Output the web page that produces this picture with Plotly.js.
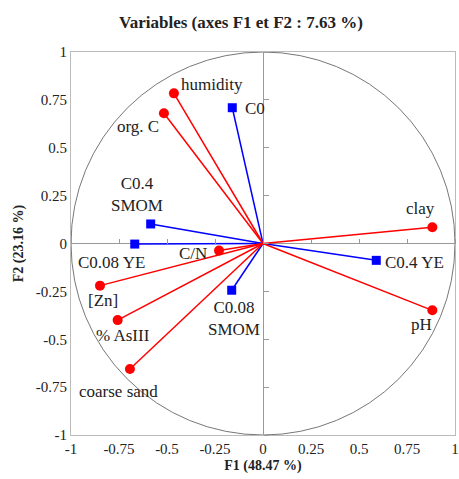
<!DOCTYPE html>
<html><head><meta charset="utf-8">
<script src="https://cdn.plot.ly/plotly-3.0.1.min.js"></script>
<style>html,body{margin:0;padding:0;background:#fff}#chart{width:459px;height:479px}</style>
</head><body><div id="chart"></div>
<script>
// Active variables (red circles)
const activeNames = ["humidity", "org. C", "C/N", "[Zn]", "% AsIII", "coarse sand", "clay", "pH"];
const activeF1 = [-0.464, -0.516, -0.229, -0.849, -0.757, -0.693, 0.882, 0.882];
const activeF2 = [0.784, 0.680, -0.037, -0.220, -0.400, -0.655, 0.085, -0.349];
// Supplementary variables (blue squares)
const suppNames = ["C0", "C0.4<br>SMOM", "C0.08 YE", "C0.08<br>SMOM", "C0.4 YE"];
const suppF1 = [-0.160, -0.585, -0.668, -0.163, 0.590];
const suppF2 = [0.709, 0.102, -0.003, -0.244, -0.088];
const tickVals = [-1, -0.75, -0.5, -0.25, 0, 0.25, 0.5, 0.75, 1];
const tickText = ["-1", "-0.75", "-0.5", "-0.25", "0", "0.25", "0.5", "0.75", "1"];

// label offsets in pixels (layout only)
const activeShift = [[38, 9], [-26, -13], [-26, -3], [3, -15], [5, -15], [-11, -23], [-12, 19], [-11, -14]];
const suppShift = [[23, -1], [-14, 29.5], [-23, -18], [2, -28], [38, -2]];

function rays(xs, ys) {
  const x = [], y = [];
  xs.forEach((v, i) => { x.push(0, v, null); y.push(0, ys[i], null); });
  return {x, y};
}
const ra = rays(activeF1, activeF2), rs = rays(suppF1, suppF2);
const RED = "#ff0000", BLUE = "#0000ff";
const serif = "Liberation Serif";

const traces = [
  {x: rs.x, y: rs.y, mode: "lines", line: {color: BLUE, width: 1.5}, hoverinfo: "skip", showlegend: false},
  {x: ra.x, y: ra.y, mode: "lines", line: {color: RED, width: 1.5}, hoverinfo: "skip", showlegend: false},
  {x: suppF1, y: suppF2, mode: "markers", marker: {symbol: "square", color: BLUE, size: 9}, showlegend: false},
  {x: activeF1, y: activeF2, mode: "markers", marker: {symbol: "circle", color: RED, size: 10}, showlegend: false},
  {x: [], y: [], xaxis: "x2", yaxis: "y2", showlegend: false}
];

const annotations = [];
activeNames.forEach((n, i) => annotations.push({x: activeF1[i], y: activeF2[i], xref: "x", yref: "y", text: n, showarrow: false,
  xshift: activeShift[i][0], yshift: activeShift[i][1], font: {family: serif, size: 17, color: "#222"}}));
suppNames.forEach((n, i) => annotations.push({x: suppF1[i], y: suppF2[i], xref: "x", yref: "y", text: n, showarrow: false,
  xshift: suppShift[i][0], yshift: suppShift[i][1], font: {family: serif, size: 17, color: "#222"}}));

const layout = {
  width: 459, height: 479,
  margin: {l: 71, r: 4, t: 52, b: 44},
  paper_bgcolor: "#fff", plot_bgcolor: "#fff",
  font: {family: serif, size: 14, color: "#222"},
  title: {text: "<b>Variables (axes F1 et F2 : 7.63 %)</b>", x: 0.525, xanchor: "center", y: 0.953, yanchor: "middle",
    font: {family: serif, size: 17, color: "#222"}},
  xaxis: {range: [-1, 1], tickvals: tickVals, ticktext: tickText, showgrid: false, zeroline: true, zerolinecolor: "#999", zerolinewidth: 1,
    showline: true, linecolor: "#bbb", linewidth: 1, mirror: true, ticks: "", ticklen: 0,
    tickfont: {family: serif, size: 15, color: "#222"},
    title: {text: "<b>F1 (48.47 %)</b>", font: {family: serif, size: 14, color: "#222"}, standoff: 4}},
  yaxis: {range: [-1, 1], tickvals: tickVals, ticktext: tickText, showgrid: false, zeroline: true, zerolinecolor: "#999", zerolinewidth: 1,
    showline: true, linecolor: "#bbb", linewidth: 1, mirror: true, ticks: "", ticklen: 0,
    tickfont: {family: serif, size: 15, color: "#222"},
    title: {text: "<b>F2 (23.16 %)</b>", font: {family: serif, size: 14, color: "#222"}, standoff: 8}},
  xaxis2: {overlaying: "x", anchor: "free", position: 0.5, side: "top", range: [-1, 1], tickvals: tickVals,
    showticklabels: false, ticks: "outside", ticklen: 5, tickcolor: "#999", showgrid: false, zeroline: false, showline: false},
  yaxis2: {overlaying: "y", anchor: "free", position: 0.5, side: "right", range: [-1, 1], tickvals: tickVals,
    showticklabels: false, ticks: "outside", ticklen: 5, tickcolor: "#999", showgrid: false, zeroline: false, showline: false},
  shapes: [{type: "circle", xref: "x", yref: "y", x0: -1, y0: -1, x1: 1, y1: 1, line: {color: "#777", width: 1}, layer: "below"}],
  annotations: annotations
};
Plotly.newPlot("chart", traces, layout, {displayModeBar: false, staticPlot: true});
</script></body></html>
